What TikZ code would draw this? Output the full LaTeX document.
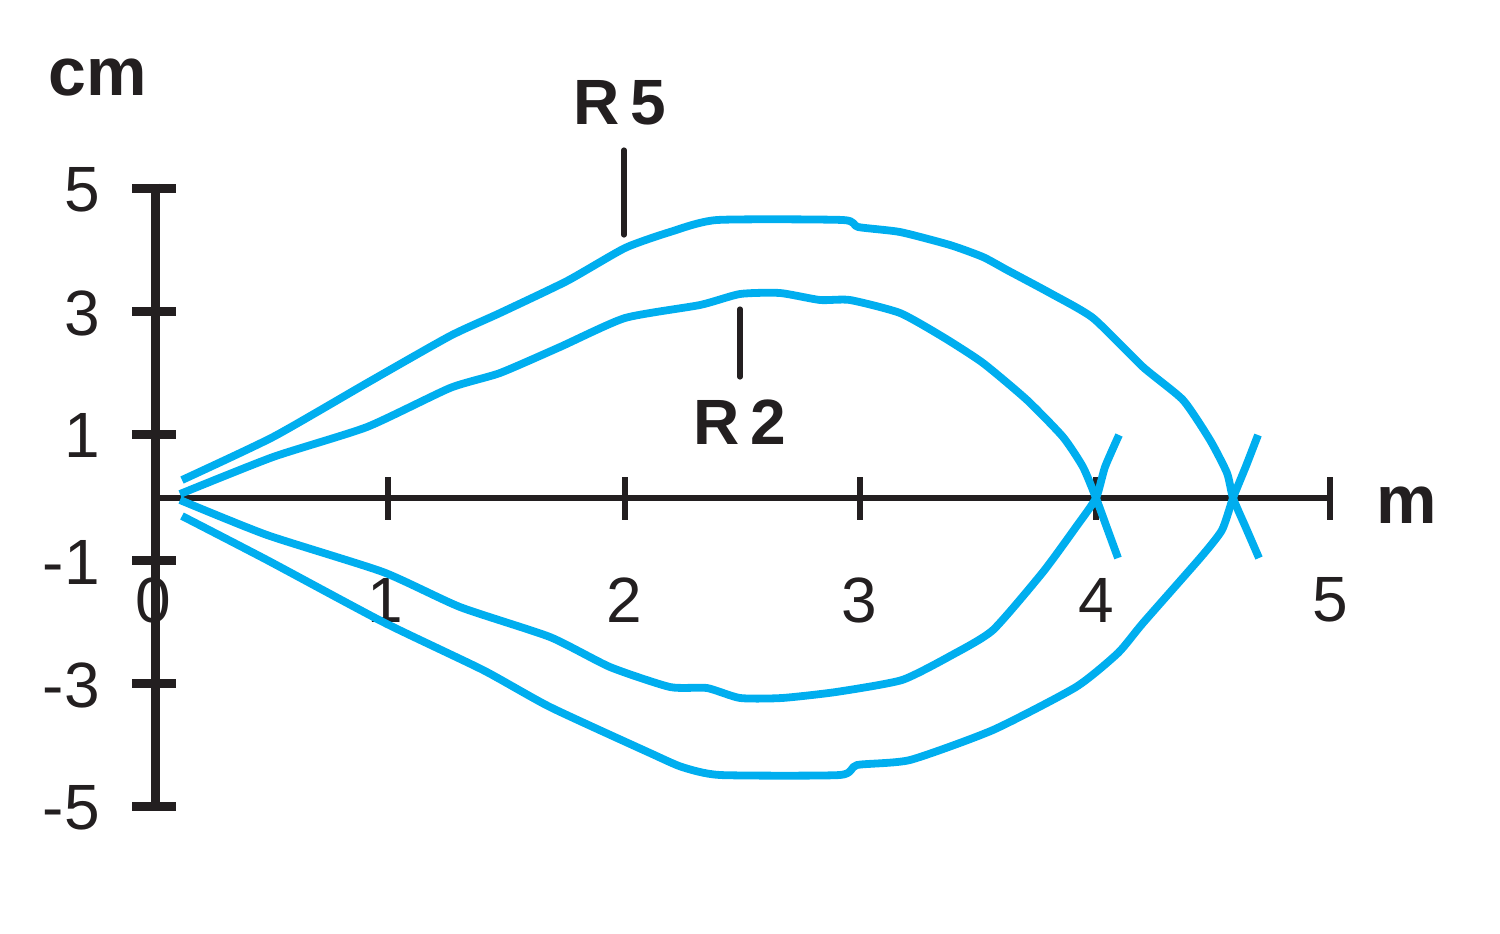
\documentclass[tikz,border=0pt]{standalone}
\usepackage{fontspec}
\setmainfont{Liberation Sans}
\definecolor{inkblack}{RGB}{35,31,32}
\definecolor{curveblue}{RGB}{0,174,239}
\begin{document}
\begin{tikzpicture}[x=0.5pt,y=-0.5pt,
  vaxis/.style={draw=inkblack,line width=4.5pt},
  haxis/.style={draw=inkblack,line width=2.6pt},
  curve/.style={draw=curveblue,line width=3.9pt,line join=round,line cap=butt},
  pointer/.style={draw=inkblack,line width=2.6pt,line cap=round},
  lab/.style={inner sep=0pt,text=inkblack,font=\fontsize{32}{38}\selectfont},
  blab/.style={inner sep=0pt,text=inkblack,font=\fontsize{32}{38}\selectfont\bfseries},
  unitlab/.style={inner sep=0pt,text=inkblack,font=\fontsize{34}{40}\selectfont\bfseries}]
\useasboundingbox (0,0) rectangle (1500,933);
% coordinates
\coordinate (vtop) at (155,183.5);
\coordinate (vbot) at (155,810.5);
\coordinate (h0) at (155,498);
\coordinate (h5) at (1330,498);
% vertical axis
\draw[vaxis] (vtop) -- (vbot);
\foreach \yy/\nm in {188/p5,311/p3,434/p1,560/m1,683/m3,806/m5}{
  \coordinate (tl\nm) at (132,\yy);
  \coordinate (tr\nm) at (176,\yy);
  \draw[vaxis] (tl\nm) -- (tr\nm);
}
% horizontal axis
\draw[haxis] (h0) -- (h5);
\foreach \xx/\nm in {388/a,625/b,860/c,1096/d,1330/e}{
  \coordinate (tt\nm) at (\xx,477);
  \coordinate (tb\nm) at (\xx,520);
  \draw[haxis] (tt\nm) -- (tb\nm);
}
% labels
\node[unitlab] (cm) at (98,78) {cm};
\node[unitlab] (m) at (1407,505) {m};
\node[lab,anchor=east] (y5) at (100,190) {5};
\node[lab,anchor=east] (y3) at (100,313) {3};
\node[lab,anchor=east] (y1) at (100,435) {1};
\node[lab,anchor=east] (ym1) at (100,562) {-1};
\node[lab,anchor=east] (ym3) at (100,685) {-3};
\node[lab,anchor=east] (ym5) at (100,808) {-5};
\node[lab] (x0) at (153,600) {0};
\node[lab] (x1) at (385,600) {1};
\node[lab] (x2) at (624,600) {2};
\node[lab] (x3) at (859,600) {3};
\node[lab] (x4) at (1096,600) {4};
\node[lab] (x5) at (1330,600) {5};
\node[blab] (r5) at (620,103) {R\,5};
\node[blab] (r2) at (740,422) {R\,2};
\coordinate (r5a) at (624,150);
\coordinate (r5b) at (624,235);
\coordinate (r2a) at (740,309);
\coordinate (r2b) at (740,377);
\draw[pointer] (r5a) -- (r5b);
\draw[pointer] (r2a) -- (r2b);
% outer curve R5
\draw[curve] plot[smooth,tension=0.35] coordinates {
 (182,480) (273,437) (367,383) (450,336) (500,313) (567,281) (625,248) (670,232) (717,220)
 (843,220) (858,227) (900,232) (950,245) (983,257) (1007,270) (1050,293) (1093,318)
 (1143,367) (1183,400) (1210,440) (1227,473) (1233,498) (1246,528) (1259,558)};
\draw[curve] plot[smooth,tension=0.35] coordinates {
 (182,516) (267,560) (383,622) (483,670) (550,707) (650,753) (682,767) (720,775)
 (840,775) (857,765) (910,760) (993,730) (1076,687) (1118,653) (1143,623) (1201,557)
 (1222,530) (1233,498) (1246,466) (1258,435)};
% inner curve R2
\draw[curve] plot[smooth,tension=0.35] coordinates {
 (180,494) (273,457) (367,427) (450,388) (500,373) (560,347) (625,318) (700,305) (740,294)
 (780,293) (820,300) (850,300) (900,313) (943,337) (983,363) (1027,400) (1063,437)
 (1083,467) (1096,498) (1107,528) (1118,558)};
\draw[curve] plot[smooth,tension=0.35] coordinates {
 (180,500) (267,535) (383,572) (460,607) (550,637) (610,667) (670,687) (707,688) (740,698)
 (782,698) (836,692) (902,680) (952,655) (993,630) (1043,572) (1076,527) (1096,498)
 (1105,467) (1119,435)};
\end{tikzpicture}
\end{document}
